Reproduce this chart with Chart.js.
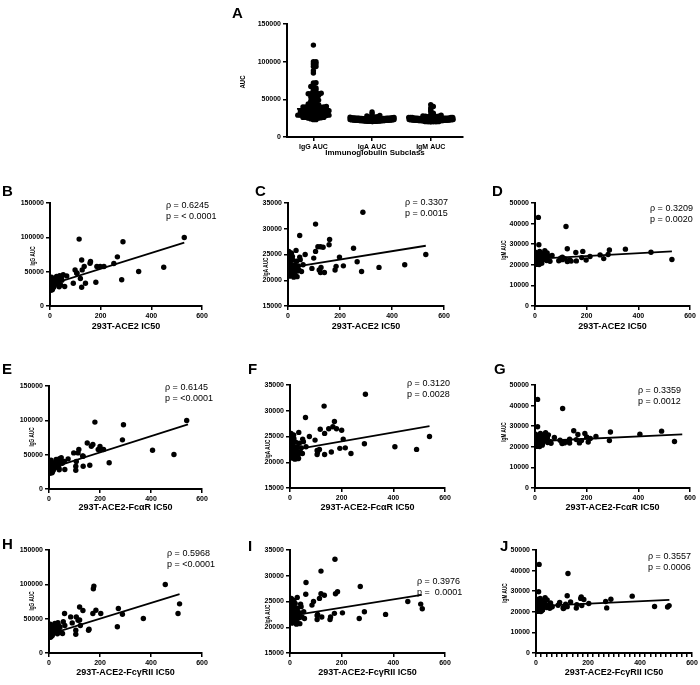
<!DOCTYPE html>
<html lang="en">
<head>
<meta charset="UTF-8">
<title>AUC vs pseudovirus IC50</title>
<script src="https://cdn.jsdelivr.net/npm/chart.js"></script>
<style>
  body { margin: 0; background: #fff; font-family: "Liberation Sans", Arial, sans-serif; }
  #fig { position: relative; width: 700px; height: 685px; overflow: hidden; }
  #fig canvas, .letter, .stat { position: absolute; }
  .letter { font-weight: bold; font-size: 15px; line-height: 1; }
  .stat { font-size: 9px; line-height: 11px; white-space: pre; }
</style>
</head>
<body>
<div id="fig"></div>
<script>
// one entry per donor: IC50 in the three pseudovirus assays and AUC per isotype
const ace2IC50 = [530, 266, 198, 449, 350, 288, 115, 106, 120, 283, 160, 158, 125, 185, 213, 181, 252, 99, 106, 127, 135, 66, 92, 125, 140, 45, 13, 15,
  1, 3, 2, 5, 8, 4, 12, 6, 15, 9, 18, 7, 22, 11, 25, 3, 28, 14, 31, 10, 35, 2, 38, 17, 42, 6, 47, 20, 52, 13, 58, 24, 4, 27, 9, 33, 16, 40, 1, 21, 7, 30, 11, 45, 5, 19, 36, 26];
const fcaIC50 = [540, 288, 206, 406, 490, 292, 180, 132, 107, 236, 172, 166, 150, 193, 214, 160, 200, 97, 134, 114, 117, 75, 105, 105, 134, 60, 10, 10,
  2, 4, 1, 7, 6, 5, 14, 8, 12, 11, 21, 6, 19, 13, 29, 4, 25, 17, 34, 9, 31, 3, 41, 15, 39, 8, 52, 23, 48, 10, 62, 27, 5, 24, 12, 36, 18, 44, 2, 19, 9, 33, 14, 49, 6, 22, 40, 28];
const fcgIC50 = [456, 512, 506, 288, 370, 174, 176, 120, 123, 268, 272, 184, 120, 172, 203, 157, 133, 85, 114, 107, 61, 91, 105, 105, 155, 62, 12, 10,
  3, 2, 4, 6, 9, 3, 10, 7, 17, 12, 16, 9, 25, 10, 22, 5, 31, 12, 28, 13, 38, 1, 35, 20, 46, 5, 43, 18, 56, 15, 53, 21, 6, 30, 8, 29, 19, 37, 2, 24, 6, 27, 13, 41, 8, 16, 33, 23];
const iggAUC = [99800, 71600, 57500, 56500, 50200, 93500, 97400, 48000, 40000, 38200, 64800, 62300, 67000, 57500, 57500, 34600, 62000, 52600, 47700, 52600, 57500, 43800, 33100, 27300, 33100, 40000, 30000, 28000,
  24000, 31000, 36000, 27000, 39000, 29000, 33000, 25000, 35000, 28000, 37000, 26000, 32000, 30000, 41000, 23000, 34000, 27500, 38000, 29500, 31500, 26500, 44000, 35500, 30500, 42000, 37500, 33500, 45500, 39500, 28500, 34500,
  26000, 37000, 23500, 32500, 30000, 40500, 27000, 35000, 29000, 33500, 25500, 38500, 31000, 36500, 28000, 43000];
const igaAUC = [25000, 23600, 24500, 23000, 22500, 33200, 26500, 30900, 22000, 21700, 27900, 26900, 26500, 22700, 22800, 22000, 26200, 24300, 25600, 22500, 26400, 25000, 22300, 21500, 21500, 28700, 22000, 21500,
  21000, 22500, 23800, 21300, 24800, 21800, 25300, 20800, 22100, 23200, 21600, 22700, 20600, 24200, 21400, 25600, 22900, 21100, 25800, 22400, 20700, 23500, 21900, 24600, 22000, 21200, 24000, 22600, 21700, 25200, 23000, 21500,
  24400, 22200, 20900, 23700, 21000, 22800, 25100, 21300, 23300, 20800, 22300, 24500, 21500, 23900, 21800, 22900];
const igmAUC = [22600, 23000, 22300, 26100, 27600, 27200, 23000, 22500, 38600, 25000, 21900, 26000, 27800, 26500, 24000, 23500, 24800, 23200, 23700, 21900, 22400, 24500, 22000, 21600, 21800, 22500, 43000, 29700,
  20500, 21500, 22800, 20800, 25000, 21200, 23500, 20300, 24600, 21900, 26500, 22200, 20900, 23000, 21600, 22600, 25400, 20600, 24100, 21400, 22900, 20200, 26800, 21800, 23300, 22000, 25800, 21100, 24300, 22500, 21700, 23800,
  20700, 22400, 21300, 24800, 20100, 23100, 26100, 21000, 22700, 25200, 20400, 22100, 23600, 21500, 24000, 20800];

// donors with AUC only (panel A)
const extraIgG = [122000, 100000, 97000, 93500, 88000, 85000, 72000, 69000, 65000, 61000, 58000, 55000, 53000, 51000, 49000, 47000, 45000, 42000, 40000, 38000, 36000, 34000, 32000, 30000, 29000, 27500, 26000, 25000, 24000, 23000];
const extraIgA = [24800, 22400, 21600, 23100, 20900, 22000, 25400, 21300, 23600, 22800, 20700, 24100, 21900, 22600, 23400, 21100, 24600, 22200, 20800, 23900, 21700, 22500, 25100, 21400, 23000, 20600, 24300, 22100, 21800, 23300];
const extraIgM = [40500, 36000, 34000, 31500, 29000, 27500, 26000, 25000, 24200, 23600, 23000, 22500, 22000, 21600, 21200, 20800, 20400, 22800, 21900, 23300, 20600, 22300, 21400, 24700, 20200, 23900, 21100, 22600, 20900, 21700];

const subclasses = ['IgG AUC', 'IgA AUC', 'IgM AUC'];

// regression lines as drawn: [x, y] at both ends
const fitB = [[0, 31000], [530, 92400]];
const fitC = [[0, 22400], [530, 26700]];
const fitD = [[0, 22900], [530, 26500]];
const fitE = [[0, 29500], [545, 94000]];
const fitF = [[0, 22300], [540, 27000]];
const fitG = [[0, 22700], [570, 26000]];
const fitH = [[0, 27000], [512, 85600]];
const fitI = [[0, 22200], [510, 26300]];
const fitJ = [[0, 22800], [513, 25800]];

const rhoText = ['ρ = 0.6245', 'ρ = 0.3307', 'ρ = 0.3209', 'ρ = 0.6145', 'ρ = 0.3120', 'ρ = 0.3359', 'ρ = 0.5968', 'ρ = 0.3976', 'ρ = 0.3557'];
const pText = ['p = < 0.0001', 'p = 0.0015', 'p = 0.0020', 'p = <0.0001', 'p = 0.0028', 'p = 0.0012', 'p = <0.0001', 'p =  0.0001', 'p = 0.0006'];

const FONT = '"Liberation Sans", Arial, sans-serif';
Chart.defaults.font.family = FONT;
Chart.defaults.color = '#000';
const fig = document.getElementById('fig');

function addText(cls, txt, left, top) {
  const d = document.createElement('div');
  d.className = cls;
  d.textContent = txt;
  d.style.left = left + 'px';
  d.style.top = top + 'px';
  fig.appendChild(d);
}

// narrow rotated y-axis title, placed at a page position
const yTitlePlugin = {
  id: 'yTitle',
  afterDraw(chart, args, o) {
    const ctx = chart.ctx;
    ctx.save();
    ctx.translate(o.x, o.y);
    ctx.rotate(-Math.PI / 2);
    ctx.scale(o.squeeze, 1);
    ctx.font = 'bold 7.5px ' + FONT;
    ctx.fillStyle = '#000';
    ctx.textAlign = 'center';
    ctx.textBaseline = 'middle';
    ctx.fillText(o.text, 0, 0);
    ctx.restore();
  }
};

function baseAxis(min, max, step, cb) {
  return {
    type: 'linear', min: min, max: max,
    border: { display: true, color: '#000', width: 2 },
    grid: { drawOnChartArea: false, drawTicks: true, tickLength: 4, color: '#000', lineWidth: 1.5 },
    ticks: { stepSize: step, color: '#000', font: { size: 7, weight: 'bold' }, padding: 2,
      autoSkip: false, maxRotation: 0, maxTicksLimit: 100, callback: cb || (v => String(v)) }
  };
}

// box = canvas [left, top, w, h], area = plot [left, right, top, bottom], page pixels
function makeChart(p) {
  const [cl, ct, cw, ch] = p.box;
  const [al, ar, at, ab] = p.area;
  const canvas = document.createElement('canvas');
  canvas.width = cw; canvas.height = ch;
  canvas.style.left = cl + 'px'; canvas.style.top = ct + 'px';
  fig.appendChild(canvas);

  const x = baseAxis(p.xMin, p.xMax, p.xStep, p.xTickCb);
  if (p.xTicks) x.afterBuildTicks = s => { s.ticks = p.xTicks.map(v => ({ value: v })); };
  x.title = { display: true, text: p.xTitle, color: '#000', font: { size: p.xTitleSize, weight: 'bold' }, padding: { top: 0, bottom: p.xTitlePad } };
  x.afterFit = s => { s.height = ct + ch - ab; };
  const y = baseAxis(p.yMin, p.yMax, p.yStep);
  y.afterFit = s => { s.width = al - cl; };

  new Chart(canvas, {
    type: 'scatter',
    data: { datasets: p.datasets },
    options: {
      responsive: false, animation: false, events: [], devicePixelRatio: 1,
      layout: { padding: { left: 0, top: at - ct, right: cl + cw - ar, bottom: 0 } },
      plugins: {
        legend: { display: false }, tooltip: { enabled: false },
        yTitle: { text: p.yTitle, x: p.yTitleAt[0] - cl, y: p.yTitleAt[1] - ct, squeeze: p.squeeze || 0.62 }
      },
      scales: { x: x, y: y }
    },
    plugins: [yTitlePlugin]
  });
}

function lineSet(pts) {
  return { data: pts.map(q => ({ x: q[0], y: q[1] })), showLine: true, borderColor: '#000', borderWidth: 1.8, pointRadius: 0, fill: false };
}
function dotSet(xs, ys) {
  return { data: xs.map((v, i) => ({ x: v, y: ys[i] })), pointRadius: 2.7, pointBackgroundColor: '#000', pointBorderWidth: 0, showLine: false };
}

// ---- panel A: dot plot per subclass with median ----
const aArea = [287, 463, 24, 137];
const aPxY = (aArea[3] - aArea[2]) / 150000;
const aPxCat = (aArea[1] - aArea[0]) / 3;

function dotOffsets(values) {
  const binUnits = 2.2 / aPxY;
  const bins = {};
  values.forEach((v, i) => { const b = Math.floor(v / binUnits); (bins[b] = bins[b] || []).push(i); });
  const offs = new Array(values.length).fill(0);
  Object.values(bins).forEach(idx => {
    idx.sort((a, b) => values[a] - values[b]);
    const n = idx.length;
    const s = n > 1 ? Math.min(2.6, 44 / (n - 1)) : 0;
    idx.forEach((i, k) => { offs[i] = (k % 2 ? 1 : -1) * Math.ceil(k / 2) * s / aPxCat; });
  });
  return offs;
}
function median(a) {
  const s = a.slice().sort((p, q) => p - q);
  const m = Math.floor(s.length / 2);
  return s.length % 2 ? s[m] : (s[m - 1] + s[m]) / 2;
}

const aGroups = [iggAUC.concat(extraIgG), igaAUC.concat(extraIgA), igmAUC.concat(extraIgM)];
const aLines = [], aDots = [];
aGroups.forEach((vals, g) => {
  const off = dotOffsets(vals);
  aDots.push(dotSet(vals.map((v, i) => g + off[i]), vals));
  const m = median(vals);
  aLines.push(lineSet([[g - 0.28, m], [g + 0.28, m]]));
});

makeChart({
  box: [230, 0, 240, 165], area: aArea,
  xMin: -0.45, xMax: 2.55, xStep: 1, xTicks: [0, 1, 2], xTickCb: v => subclasses[v] || '',
  yMin: 0, yMax: 150000, yStep: 50000,
  xTitle: 'Immunoglobulin Subclass', xTitleSize: 8, xTitlePad: 7,
  yTitle: 'AUC', yTitleAt: [243, 82], squeeze: 0.8,
  datasets: aLines.concat(aDots)
});
addText('letter', 'A', 232, 5);

// ---- panels B-J ----
const xTitles = ['293T-ACE2 IC50', '293T-ACE2-FcαR IC50', '293T-ACE2-FcγRII IC50'];
const yTitles = ['IgG AUC', 'IgA AUC', 'IgM AUC'];
const xSeries = [ace2IC50, fcaIC50, fcgIC50];
const ySeries = [iggAUC, igaAUC, igmAUC];
const yRanges = [[0, 150000, 50000], [15000, 35000, 5000], [0, 50000, 10000]];
const fits = [fitB, fitC, fitD, fitE, fitF, fitG, fitH, fitI, fitJ];
const letters = ['B', 'C', 'D', 'E', 'F', 'G', 'H', 'I', 'J'];

const layout = [
  // box, area, y title centre, x title pad, letter pos, stat pos
  { box: [0, 178, 232, 157],   area: [50, 202, 203, 306],  yT: [33, 256],  xPad: 2.6, L: [2, 183],   S: [166, 200] },
  { box: [235, 178, 225, 157], area: [288, 444, 203, 306], yT: [266, 267], xPad: 2.6, L: [255, 183], S: [405, 197] },
  { box: [465, 178, 235, 157], area: [535, 690, 203, 306], yT: [504, 250], xPad: 2.6, L: [492, 183], S: [650, 203] },
  { box: [0, 360, 232, 155],   area: [49, 202, 386, 489],  yT: [32, 437],  xPad: 1.6, L: [2, 361],   S: [165, 382] },
  { box: [235, 360, 225, 155], area: [290, 445, 385, 488], yT: [268, 449], xPad: 1.6, L: [248, 361], S: [407, 378] },
  { box: [465, 360, 235, 155], area: [535, 690, 385, 488], yT: [504, 432], xPad: 1.6, L: [494, 361], S: [638, 385] },
  { box: [0, 525, 232, 160],   area: [49, 202, 550, 653],  yT: [32, 601],  xPad: 6.6, L: [2, 536],   S: [167, 548] },
  { box: [235, 525, 225, 160], area: [290, 445, 550, 653], yT: [268, 614], xPad: 6.6, L: [248, 538], S: [417, 576] },
  { box: [465, 525, 235, 160], area: [536, 692, 550, 653], yT: [505, 593], xPad: 6.6, L: [500, 538], S: [648, 551] }
];

layout.forEach((lp, k) => {
  const row = Math.floor(k / 3), col = k % 3;
  const yr = yRanges[col];
  const minor = k === 8;
  makeChart({
    box: lp.box, area: lp.area,
    xMin: 0, xMax: 600, xStep: minor ? 20 : 200,
    xTickCb: minor ? (v => (v % 200 === 0 ? String(v) : '')) : null,
    yMin: yr[0], yMax: yr[1], yStep: yr[2],
    xTitle: xTitles[row], xTitleSize: 9, xTitlePad: lp.xPad,
    yTitle: yTitles[col], yTitleAt: lp.yT,
    datasets: [lineSet(fits[k]), dotSet(xSeries[row], ySeries[col])]
  });
  addText('letter', letters[k], lp.L[0], lp.L[1]);
  addText('stat', rhoText[k] + '\n' + pText[k], lp.S[0], lp.S[1]);
});
</script>
</body>
</html>
